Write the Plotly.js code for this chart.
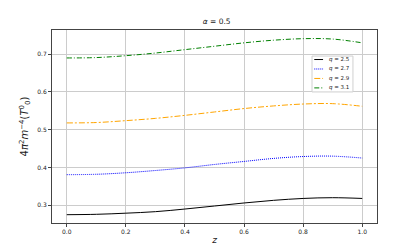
<!DOCTYPE html>
<html><head><meta charset="utf-8">
<script src="https://cdn.plot.ly/plotly-3.0.1.min.js"></script>
<style>html,body{margin:0;padding:0;background:#fff}#c{width:419px;height:251px}</style>
</head><body><div id="c"></div>
<script>
const z = [0,0.1,0.2,0.3,0.4,0.5,0.6,0.7,0.8,0.9,1.0];
const q25 = [0.275,0.276,0.279,0.283,0.290,0.298,0.306,0.313,0.318,0.320,0.318];
const q27 = [0.381,0.382,0.386,0.392,0.399,0.408,0.416,0.424,0.429,0.430,0.425];
const q29 = [0.518,0.519,0.524,0.530,0.538,0.547,0.556,0.563,0.568,0.569,0.562];
const q31 = [0.690,0.691,0.696,0.703,0.712,0.721,0.730,0.737,0.741,0.740,0.730];
const names = ["<i>q</i> = 2.5","<i>q</i> = 2.7","<i>q</i> = 2.9","<i>q</i> = 3.1"];
const colors = ['black','blue','orange','green'];
const dashes = ['solid','1px,1px','6px,2px,2px,2px','5px,2px,1px,2px'];
const series = [q25,q27,q29,q31];
const data = series.map((y,i)=>({x:z,y:y,name:names[i],type:'scatter',mode:'lines',showlegend:false,line:{color:colors[i],dash:dashes[i],width:1,shape:'spline'}}));
const ax = {showline:true,mirror:true,linecolor:'#444',linewidth:1,showgrid:true,gridcolor:'#cccccc',gridwidth:1,zeroline:false,ticks:'outside',ticklen:3,tickcolor:'#444',tickfont:{size:6,family:'DejaVu Sans',color:'#222'}};
// custom compact legend (paper coords)
const lx0=0.8, lx1=0.926, ly1=0.865, ly0=0.679;
const rows=[0.85,0.80,0.75,0.70];
const shapes=[{type:'rect',xref:'paper',yref:'paper',x0:lx0,x1:lx1,y0:ly0,y1:ly1,line:{color:'#d0d0d0',width:1},fillcolor:'rgba(255,255,255,0.9)',layer:'above'}];
const annotations=[];
rows.forEach((r,i)=>{
  const yy = ly1-0.018-(i)*0.049;
  shapes.push({type:'line',xref:'paper',yref:'paper',x0:0.807,x1:0.834,y0:yy,y1:yy,line:{color:colors[i],dash:dashes[i],width:1},layer:'above'});
  annotations.push({xref:'paper',yref:'paper',x:0.845,y:yy,xanchor:'left',yanchor:'middle',text:names[i],showarrow:false,font:{size:5.5,family:'DejaVu Sans',color:'#222'}});
});
const layout={width:419,height:251,margin:{l:52,r:42,t:30,b:28},paper_bgcolor:'#fff',plot_bgcolor:'#fff',
title:{text:'<i>α</i> = 0.5',font:{size:7.5,family:'DejaVu Sans',color:'#222'},x:0.517,xanchor:'center',y:0.905,yanchor:'bottom'},
xaxis:Object.assign({},ax,{range:[-0.05,1.05],tickvals:[0,0.2,0.4,0.6,0.8,1.0],ticktext:['0.0','0.2','0.4','0.6','0.8','1.0'],title:{text:'<i>z</i>',font:{size:9,family:'DejaVu Sans',color:'#222'},standoff:2}}),
yaxis:Object.assign({},ax,{range:[0.253,0.764],tickvals:[0.3,0.4,0.5,0.6,0.7],ticktext:['0.3','0.4','0.5','0.6','0.7'],title:{text:'4<i>π</i><sup>2</sup><i>m</i><sup>−4</sup>(<i>T</i><sup>0</sup><sub>0</sub>)',font:{size:10,family:'DejaVu Sans',color:'#222'},standoff:6}}),
shapes:shapes,annotations:annotations,showlegend:false};
Plotly.newPlot('c',data,layout,{displayModeBar:false,staticPlot:true});
</script></body></html>
